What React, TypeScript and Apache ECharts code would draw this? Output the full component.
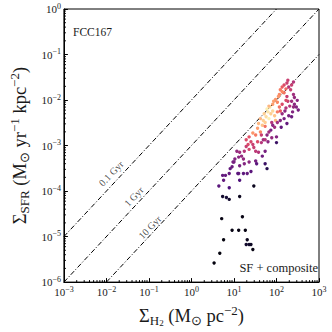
import React, { useEffect, useRef } from 'react';
import * as echarts from 'echarts';

// Axis extents and tick decades
const X_MIN = 1e-3;
const X_MAX = 1e3;
const Y_MIN = 1e-6;
const Y_MAX = 1;
const X_DECADES = [-3, -2, -1, 0, 1, 2];
const Y_DECADES = [-6, -5, -4, -3, -2, -1];

// Constant depletion-time lines (Σ_SFR = Σ_H2 / t_dep), endpoints on the frame
const lineNames = ['0.1 Gyr', '1 Gyr', '10 Gyr'];
const lineStartX = [1e-3, 1e-3, 1e-2];
const lineStartY = [1e-5, 1e-6, 1e-6];
const lineEndX = [1e2, 1e3, 1e3];
const lineEndY = [1, 1, 1e-1];

// Label anchor points for the lines
const labelX = [0.0129, 0.0441, 0.105];
const labelY = [2.44e-4, 7.58e-5, 1.6e-5];

// Scatter data: Σ_H2 (M⊙ pc^-2), Σ_SFR (M⊙ yr^-1 kpc^-2), colour value (0-1)
const sigmaH2 = [
  151, 176, 194, 227, 251, 215,
  123, 117, 151, 95, 81.5, 105,
  251, 264, 227, 264, 293, 251, 205,
  158, 136, 194, 151, 123, 227,
  69.9, 81.5, 63.1, 73.6, 57.0, 90.3, 48.9, 95,
  117, 123, 105,
  37.8, 46.4, 54.1, 35.9, 41.9, 32.4, 27.8,
  22.7, 19.4, 25.1, 21.5, 27.8, 29.3, 22.7, 32.4, 19.4, 17.5, 37.8,
  11.7, 13.6, 15.1, 12.9, 10.5, 16.7, 10.0, 9.03, 13.6, 17.5, 22.7, 32.4, 46.4, 54.1, 48.9, 63.1, 77.4, 100, 90.3, 77.4, 105,
  100, 54.1, 59.9, 8.15, 7.74, 12.9, 16.7, 25.1,
  4.41, 5.41, 5.70, 6.31, 9.5, 12.3, 13.6, 20.5, 34.1, 7.74,
  29.3, 5.41, 6.64, 7.74, 13.6, 5.14, 15.8, 9.03, 12.9, 18.5, 5.70, 20.5, 19.4, 22.7, 25.1, 27.8, 4.64, 3.41,
  59.9, 66.4, 51.4, 41.9, 54.1,
  136, 167, 85.8, 66.4,
  176, 185, 136, 167,
  73.6, 176, 129, 59.9, 44.1,
  185, 136, 111, 167, 308, 239, 325, 81.5, 66.4, 44.1, 54.1, 35.9,
];
const sigmaSFR = [
  0.0214, 0.0236, 0.0194, 0.0214, 0.0248, 0.0168,
  0.0168, 0.0132, 0.0145, 0.0103, 0.0081, 0.00893,
  0.0132, 0.0114, 0.00937, 0.0081, 0.007, 0.007, 0.00735,
  0.00576, 0.00498, 0.00452, 0.0039, 0.00354, 0.00431,
  0.007, 0.00576, 0.00549, 0.00498, 0.00431, 0.00452, 0.00354, 0.00354,
  0.007, 0.00576, 0.00549,
  0.00306, 0.00278, 0.00321, 0.0024, 0.00198, 0.00171, 0.00188,
  0.00155, 0.00134, 0.00121, 0.00105, 0.00105, 0.000908, 0.000823, 0.000747, 0.000952, 0.000747, 0.000711,
  0.000747, 0.000711, 0.000585, 0.000557, 0.000506, 0.000506, 0.000437, 0.000343, 0.00036, 0.000397, 0.000437, 0.000459, 0.000585, 0.000747, 0.00134, 0.00121, 0.00148, 0.00155, 0.00252, 0.00321, 0.00321,
  0.00116, 0.000397, 0.000311, 0.000311, 0.000244, 0.000244, 0.000244, 0.000269,
  0.000129, 0.000221, 0.000173, 0.000221, 0.000437, 0.000244, 0.000173, 0.000244, 0.000397, 0.000118,
  0.000129, 7.58e-5, 7.22e-5, 6.56e-5, 7.58e-5, 2.48e-5, 2.73e-5, 1.38e-5, 1.38e-5, 1.38e-5, 8.49e-6, 8.49e-6, 6.67e-6, 6.67e-6, 6.67e-6, 5.22e-6, 4.3e-6, 2.64e-6,
  0.00635, 0.0039, 0.00498, 0.0039, 0.00264,
  0.01524, 0.0176, 0.00937, 0.00735,
  0.0119, 0.00937, 0.0081, 0.00667,
  0.00218, 0.00306, 0.00252, 0.00171, 0.00116,
  0.0273, 0.0194, 0.0119, 0.00984, 0.00984, 0.00549, 0.00605, 0.00278, 0.00198, 0.00171, 0.00134, 0.00121,
];
const colourValue = [
  0.6, 0.55, 0.5, 0.55, 0.5, 0.55,
  0.72, 0.75, 0.7, 0.78, 0.8, 0.75,
  0.45, 0.42, 0.45, 0.4, 0.38, 0.42, 0.5,
  0.4, 0.42, 0.35, 0.35, 0.38, 0.32,
  0.95, 0.92, 0.95, 0.9, 0.93, 0.88, 0.9, 0.85,
  0.7, 0.65, 0.72,
  0.85, 0.88, 0.9, 0.8, 0.75, 0.72, 0.78,
  0.62, 0.6, 0.58, 0.6, 0.55, 0.55, 0.58, 0.52, 0.55, 0.5, 0.5,
  0.42, 0.45, 0.42, 0.4, 0.38, 0.42, 0.35, 0.32, 0.35, 0.38, 0.4, 0.35, 0.33, 0.35, 0.45, 0.4, 0.42, 0.38, 0.45, 0.5, 0.45,
  0.2, 0.2, 0.15, 0.3, 0.3, 0.3, 0.28, 0.28,
  0.28, 0.3, 0.3, 0.3, 0.35, 0.28, 0.25, 0.3, 0.28, 0.25,
  0.05, 0.08, 0.1, 0.08, 0.05, 0.03, 0.03, 0.03, 0.03, 0.03, 0.02, 0.05, 0.08, 0.08, 0.06, 0.03, 0.02, 0.02,
  0.97, 0.97, 0.9, 0.85, 0.7,
  0.75, 0.68, 0.8, 0.85,
  0.55, 0.55, 0.6, 0.5,
  0.35, 0.3, 0.3, 0.4, 0.5,
  0.55, 0.65, 0.78, 0.6, 0.4, 0.38, 0.35, 0.4, 0.45, 0.55, 0.5, 0.6,
];

const MAGMA = ['#000004', '#1c1044', '#4f127b', '#812581', '#b5367a', '#e55064', '#fb8761', '#fec287', '#fcfdbf'];
const SERIF = 'Liberation Serif';
const INK = '#1a1a1a';

const supLabel = (v: number) => {
  const e = Math.round(Math.log10(v));
  return `{b|10}{s|${e < 0 ? '\u2212' + Math.abs(e) : e}}`;
};

const tickRich = {
  b: { fontSize: 11, fontFamily: SERIF, color: INK, lineHeight: 14 },
  s: { fontSize: 8, fontFamily: SERIF, color: INK, lineHeight: 14, padding: [0, 0, 6, 0] },
};

const nameRich = {
  a: { fontSize: 18.5, fontFamily: SERIF, color: INK },
  sub: { fontSize: 13, fontFamily: SERIF, color: INK, padding: [8, 0, 0, 0] },
  sub2: { fontSize: 9, fontFamily: SERIF, color: INK, padding: [13, 0, 0, 0] },
  sup: { fontSize: 13, fontFamily: SERIF, color: INK, padding: [0, 0, 11, 0] },
};

export default function App() {
  const ref = useRef<HTMLDivElement>(null);
  useEffect(() => {
    if (!ref.current) return;
    const chart = echarts.init(ref.current, undefined, { renderer: 'svg' });

    const points = sigmaH2.map((x, i) => [x, sigmaSFR[i], colourValue[i]]);
    const xMinor: number[][] = [];
    X_DECADES.forEach((d) => { for (let k = 2; k <= 9; k++) xMinor.push([k * Math.pow(10, d), Y_MIN]); });
    const yMinor: number[][] = [];
    Y_DECADES.forEach((d) => { for (let k = 2; k <= 9; k++) yMinor.push([X_MIN, k * Math.pow(10, d)]); });

    const lineStyle = { color: '#000', width: 1, type: [5, 2, 1, 2] as any };

    const option: any = {
      animation: false,
      grid: { left: 50, right: 13, top: 9, bottom: 39, show: true, borderColor: '#000', borderWidth: 1, backgroundColor: 'transparent' },
      xAxis: {
        type: 'log', logBase: 10, min: X_MIN, max: X_MAX, splitNumber: 6,
        axisLine: { lineStyle: { color: '#000', width: 1 } },
        axisTick: { inside: true, length: 4, lineStyle: { color: '#000' } },
        splitLine: { show: false },
        axisLabel: { formatter: supLabel, rich: tickRich, margin: 3 },
        name: '{a|\u03A3}{sub|H}{sub2|2}{a| (M}{sub|\u2299}{a| pc}{sup|\u22122}{a|)}',
        nameLocation: 'middle', nameGap: 7,
        nameTextStyle: { rich: nameRich },
      },
      yAxis: {
        type: 'log', logBase: 10, min: Y_MIN, max: Y_MAX, splitNumber: 6,
        axisLine: { lineStyle: { color: '#000', width: 1 } },
        axisTick: { inside: true, length: 4, lineStyle: { color: '#000' } },
        splitLine: { show: false },
        axisLabel: { formatter: supLabel, rich: tickRich, margin: 3 },
        name: '{a|\u03A3}{sub|SFR}{a| (M}{sub|\u2299}{a| yr}{sup|\u22121}{a| kpc}{sup|\u22122}{a|)}',
        nameLocation: 'middle', nameGap: 24, nameRotate: 90,
        nameTextStyle: { rich: nameRich },
      },
      visualMap: {
        show: false, type: 'continuous', seriesIndex: 3, dimension: 2, min: 0, max: 1,
        inRange: { color: MAGMA },
      },
      series: [
        ...lineNames.map((n, i) => ({
          type: 'line', name: n, symbol: 'none', silent: true, z: 2,
          data: [[lineStartX[i], lineStartY[i]], [lineEndX[i], lineEndY[i]]],
          lineStyle,
        })),
        {
          type: 'scatter', name: 'SF + composite', symbol: 'circle', symbolSize: 3.4, z: 4,
          data: points,
          itemStyle: { opacity: 1 },
        },
        {
          type: 'scatter', symbolSize: 0, silent: true, z: 5,
          data: labelX.map((x, i) => ({ value: [x, labelY[i]], name: lineNames[i] })),
          label: {
            show: true, position: 'inside', rotate: 46.4, formatter: '{b}',
            fontFamily: SERIF, fontSize: 10, color: INK,
          },
        },
        {
          type: 'custom', silent: true, clip: false, z: 3,
          data: xMinor,
          renderItem: (_p: any, api: any) => {
            const c = api.coord([api.value(0), Y_MIN]);
            return { type: 'line', shape: { x1: c[0], y1: c[1], x2: c[0], y2: c[1] - 2 }, style: { stroke: '#000', lineWidth: 1 } };
          },
        },
        {
          type: 'custom', silent: true, clip: false, z: 3,
          data: yMinor,
          renderItem: (_p: any, api: any) => {
            const c = api.coord([X_MIN, api.value(1)]);
            return { type: 'line', shape: { x1: c[0], y1: c[1], x2: c[0] + 2, y2: c[1] }, style: { stroke: '#000', lineWidth: 1 } };
          },
        },
      ],
      graphic: [
        { type: 'text', left: 73, top: 26, style: { text: 'FCC167', fontFamily: SERIF, fontSize: 11.5, fill: INK } },
        { type: 'text', right: 14, top: 261, style: { text: 'SF + composite', fontFamily: SERIF, fontSize: 12.5, fill: INK } },
      ],
    };
    chart.setOption(option);
    return () => chart.dispose();
  }, []);
  return <div ref={ref} style={{ width: 332, height: 332, position: 'absolute', left: 0, top: 0 }} />;
}
